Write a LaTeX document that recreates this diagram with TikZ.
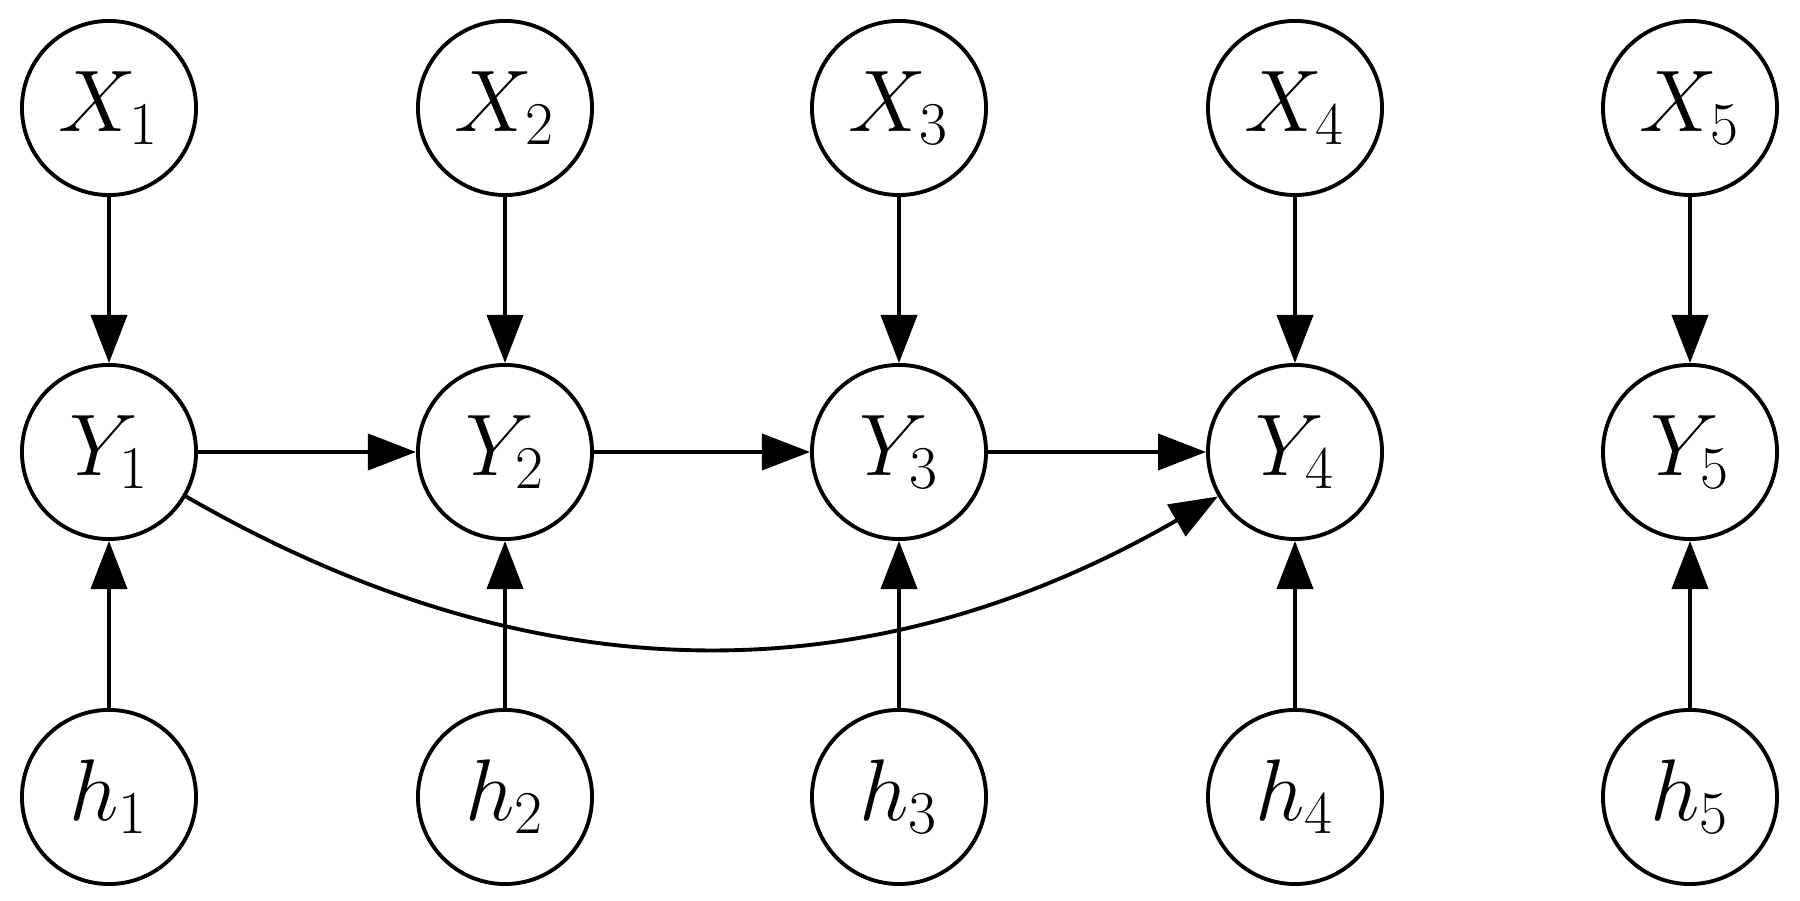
\documentclass[tikz,border=0pt]{standalone}
\usetikzlibrary{arrows.meta}
\begin{document}
\begin{tikzpicture}[x=0.01cm,y=-0.01cm,
  var/.style={circle,draw,line width=1.1pt,minimum size=1.74cm,inner sep=0pt,font=\fontsize{25pt}{30pt}\selectfont},
  arr/.style={line width=1.1pt,-{Triangle[length=4.8mm,width=3.6mm]}}]
\useasboundingbox (0,0) rectangle (1800,901);
\foreach \i/\x in {1/109,2/505,3/899,4/1295,5/1690}{
  \node[var] (X\i) at (\x,108) {$X_\i$};
  \node[var] (Y\i) at (\x,452) {$Y_\i$};
  \node[var] (h\i) at (\x,797) {$h_\i$};
  \draw[arr] (X\i) -- (Y\i);
  \draw[arr] (h\i) -- (Y\i);
}
\draw[arr] (Y1) -- (Y2);
\draw[arr] (Y2) -- (Y3);
\draw[arr] (Y3) -- (Y4);
\draw[arr] (Y1) to[bend right=30] (Y4);
\end{tikzpicture}
\end{document}
